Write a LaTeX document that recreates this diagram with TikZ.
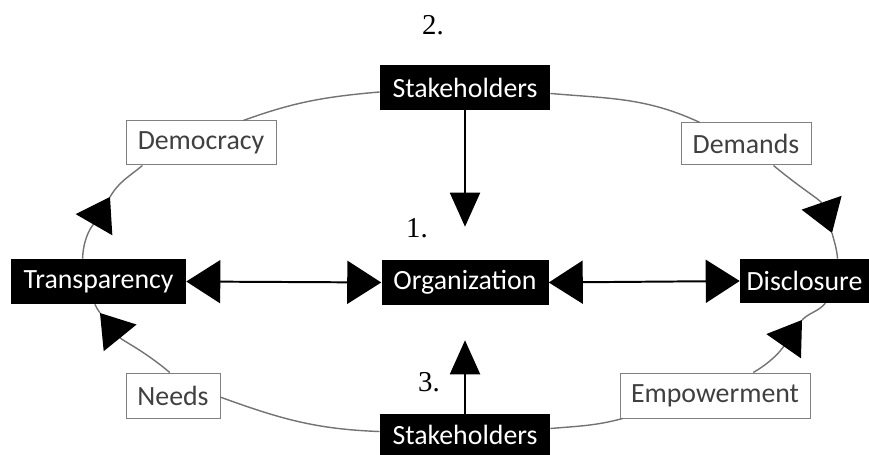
\documentclass[tikz,border=0pt]{standalone}
\usepackage{fontspec}
\setmainfont{Carlito}
\newfontfamily\numfont{Liberation Serif}
\usetikzlibrary{arrows.meta}

\tikzset{
			dark/.style={rectangle, fill=black, text=white, inner sep=0pt, minimum height=11.25mm, font=\fontsize{19.8pt}{22pt}\selectfont},
			light/.style={rectangle, draw=black!50, line width=0.7pt, fill=white, text=black!75, inner sep=0pt, minimum height=11mm, font=\fontsize{19.8pt}{22pt}\selectfont},
			num/.style={font=\numfont\fontsize{20.5pt}{24pt}\selectfont},
			link/.style={line width=1.4pt},
			vert/.style={link, -{Triangle[length=8.5mm, width=7.5mm]}},
			horiz/.style={link, {Triangle[length=8.5mm, width=10.75mm]}-{Triangle[length=8.5mm, width=10.75mm]}},
			ring/.style={line width=1pt, draw=black!55},
			cend/.style={-{Triangle[length=8mm, width=10.5mm, black]}}
		}

\begin{document}
\begin{tikzpicture}[x=0.25mm, y=0.25mm]

			\useasboundingbox (0,0) rectangle (869,455);

			% Define nodes
			\node[dark, minimum width=42.5mm] (stakeT) at (465, 367.5) {Stakeholders};
			\node[dark, minimum width=41.75mm] (org) at (465, 172.5) {Organization};
			\node[dark, minimum width=43.75mm] (trans) at (98.5, 173.5) {Transparency};
			\node[dark, minimum width=32.25mm, minimum height=11mm] (discl) at (804.5, 174) {Disclosure};
			\node[dark, minimum width=42.5mm, minimum height=10.25mm] (stakeB) at (465, 20.5) {Stakeholders};

			\node[light, minimum width=37.5mm] (dem) at (201, 312) {Democracy};
			\node[light, minimum width=32.5mm, minimum height=10.5mm] (demands) at (746, 311) {Demands};
			\node[light, minimum width=23.5mm, minimum height=11.25mm] (needs) at (173, 59.5) {Needs};
			\node[light, minimum width=47.5mm, minimum height=11.25mm] (emp) at (715, 59.5) {Empowerment};

			\node[num] (n2) at (433, 430) {2.};
			\node[num] (n1) at (417, 227) {1.};
			\node[num] (n3) at (429, 73) {3.};

			% Arrow tips on the ring
			\coordinate (tipTL) at (110, 258);
			\coordinate (tipTR) at (832, 222);
			\coordinate (tipBR) at (802, 135);
			\coordinate (tipBL) at (100, 142);

			% Draw straight arrows
			\draw[vert] (stakeT.south) -- ([yshift=8.25mm]org.north);
			\draw[vert] (stakeB.north) -- ([yshift=-8.75mm]org.south);
			\draw[horiz] (trans.east) -- (org.west);
			\draw[horiz] (org.east) -- (discl.west);

			% Draw the ring
			\draw[ring, cend] (trans.125) to[out=88, in=240] (tipTL);
			\draw[ring] (tipTL) to[out=60, in=220] (dem.201);
			\draw[ring] (dem.28) to[out=20, in=185] (stakeT.183);
			\draw[ring] (stakeT.356) to[out=-5, in=155] (demands.155);
			\draw[ring, cend] (demands.-38) to[out=-40, in=109] (tipTR);
			\draw[ring] (tipTR) to[out=-75, in=95] (discl.34);
			\draw[ring, cend] (emp.31) to[out=30, in=235] (tipBR);
			\draw[ring] (tipBR) to[out=45, in=230] (discl.-47);
			\draw[ring] (stakeB.4) to[out=5, in=195] (emp.194);
			\draw[ring] (stakeB.178) to[out=178, in=-20] (needs.-2);
			\draw[ring, cend] (needs.98) to[out=140, in=-51] (tipBL);
			\draw[ring] (tipBL) to[out=110, in=-80] (trans.261);

		\end{tikzpicture}
\end{document}
